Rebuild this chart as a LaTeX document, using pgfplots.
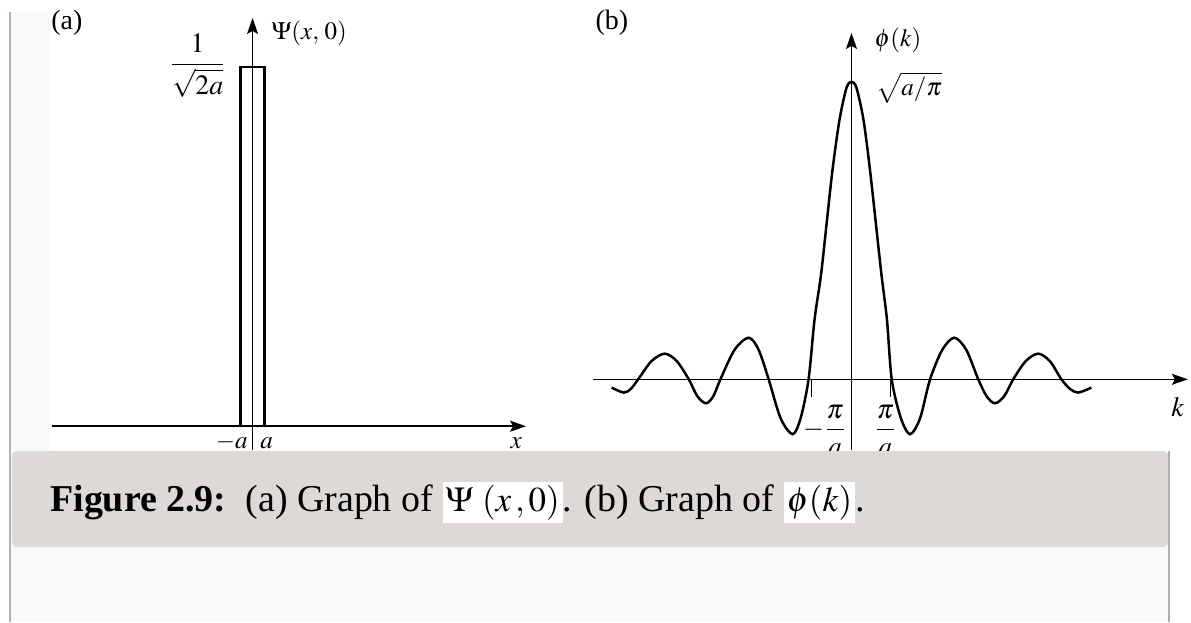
\documentclass[border=0pt]{standalone}
\usepackage{amsmath}
\usepackage{mathptmx}
\usepackage[no-math]{fontspec}
\setmainfont{Liberation Serif}
\usepackage{pgfplots}
\usepackage{pgfplotstable}
\pgfplotsset{compat=1.18}
\usetikzlibrary{arrows.meta}

\definecolor{capgray}{RGB}{220,217,214}
\definecolor{framegray}{RGB}{180,175,172}
\definecolor{paleblue}{RGB}{248,249,250}

% one data unit = one pixel of the reference
\pgfplotsset{
  sketch/.style={
    axis lines=middle, enlargelimits=false,
    x=0.5pt, y=0.5pt, anchor=origin,
    xtick=\empty, ytick=\empty, clip=false,
    axis line style={line width=0.75pt, -{Stealth[length=8pt,width=5.5pt,inset=1.5pt]}},
    every inner x axis line/.append style={-{Stealth[length=8pt,width=5.5pt,inset=1.5pt]}},
    every inner y axis line/.append style={-{Stealth[length=8pt,width=5.5pt,inset=1.5pt]}},
  },
}

% phi(k) (x: px from the phi axis, y: px above the k axis)
\pgfplotstableread{
x y
-240.3 -8.3
-228 -13.3
-220.9 -9.4
-213.7 0
-200.4 18.2
-187 25.7
-175 18.2
-163 0
-154.4 -17
-145.7 -24
-138.5 -17
-131.3 0
-117.2 29.5
-103 41.7
-93 29.5
-83 0
-71 -39
-59 -55
-51 -39
-43 0
-37 60
-30.5 105
-24.5 160
-19 210
-12 260
-5 292
0 298
5 292
12 260
18.5 210
24 160
30 105
35.5 60
40.3 0
49.5 -39
58.7 -55
68.7 -39
78.7 0
90.9 29.5
103 41.7
115 29.5
127 0
135.4 -17
143.7 -24
152.9 -17
162 0
174.5 18.2
187 25.7
198.7 18.2
210.3 0
218.7 -9.4
227 -13.3
240.3 -8.3
}\phidata

\begin{document}
\begin{tikzpicture}
\begin{scope}[x=0.5pt,y=-0.5pt]
  \useasboundingbox (0,0) rectangle (1191,623);
  \fill[white] (0,0) rectangle (1191,623);
  \fill[paleblue] (11,12) rectangle (50,452);
\end{scope}

% (a) Psi(x,0)
\begin{axis}[sketch, at={(126.5pt,-213.5pt)},
  xmin=-201, xmax=274, ymin=-24, ymax=409]
  \addplot[black, line width=1.25pt] coordinates
    {(-185,0) (-12,0) (-12,360) (12,360) (12,0) (234,0)};
\end{axis}

% (b) phi(k)
\begin{axis}[sketch, at={(426.5pt,-190pt)},
  xmin=-259, xmax=337, ymin=-71, ymax=347]
  \addplot[black, line width=1.25pt, smooth] table {\phidata};
  \draw[line width=0.75pt] (axis cs:-40.3,0) -- (axis cs:-40.3,-18);
  \draw[line width=0.75pt] (axis cs:39,0) -- (axis cs:39,-18);
\end{axis}

\begin{scope}[x=0.5pt,y=-0.5pt, font=\fontsize{12.5}{15}\selectfont]
  \node[font=\fontsize{14}{16}\selectfont] at (67,23) {(a)};
  \node[anchor=west] at (265,33) {$\Psi(x,\,0)$};
  \node[font=\fontsize{14}{16}\selectfont] at (198,66) {$\dfrac{1}{\sqrt{2a}}$};
  \node[anchor=base] at (232,449) {$-a$};
  \node[anchor=base] at (267,449) {$a$};
  \node[anchor=base] at (517,449) {$x$};

  \node[font=\fontsize{14}{16}\selectfont] at (613,23) {(b)};
  \node[anchor=west] at (869,40) {$\phi(k)$};
  \node[anchor=west] at (871,88) {$\sqrt{a/\pi}$};
  \node[font=\fontsize{14}{16}\selectfont] at (1180,408) {$k$};
  \node[font=\fontsize{13.5}{16}\selectfont] at (826,431) {$-\dfrac{\pi}{a}$};
  \node[font=\fontsize{13.5}{16}\selectfont] at (887,431) {$\dfrac{\pi}{a}$};
\end{scope}

\begin{scope}[x=0.5pt,y=-0.5pt]
  \fill[capgray, rounded corners=2pt] (12,452) rectangle (1170,548);
  \fill[paleblue] (11,548) rectangle (1170,623);
  \draw[framegray, line width=1pt] (10,12) -- (10,623);
  \draw[framegray, line width=1pt] (1171,452) -- (1171,623);
  \node[anchor=base west, inner sep=0pt, font=\fontsize{19}{23}\selectfont]
    at (50,512) {\textbf{Figure 2.9:}\ \ (a) Graph of
    {\fontsize{17.5}{20}\selectfont\setlength{\fboxsep}{1.5pt}\colorbox{white}{$\Psi\ (x\,,0)$}}.
    (b) Graph of {\fontsize{17.5}{20}\selectfont\setlength{\fboxsep}{1.5pt}\colorbox{white}{$\phi(k)$}}.};
\end{scope}
\end{tikzpicture}
\end{document}
